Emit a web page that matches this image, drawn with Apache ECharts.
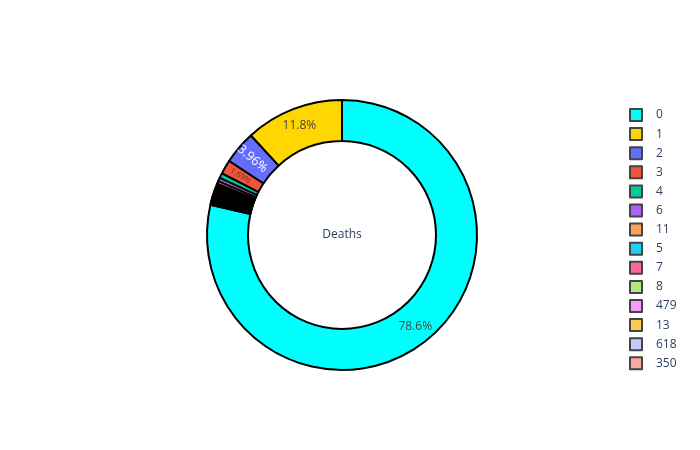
<!DOCTYPE html>
<html><head><meta charset="utf-8">
<script src="https://cdn.jsdelivr.net/npm/echarts@6/dist/echarts.min.js"></script>
<style>html,body{margin:0;padding:0;background:#fff}#c{width:700px;height:450px}</style>
</head><body><div id="c"></div>
<script>
// Legend-visible categories (sorted as in the reference legend)
const labels = ['0','1','2','3','4','6','11','5','7','8','479','13','618','350'];
const values = [932, 140, 47, 20, 7, 5, 4, 3, 2, 2, 2, 2, 2, 2];
// Long tail of tiny slices (they render as the black band; not listed in visible legend)
const tailLabels = ['t1','t2','t3','t4','t5','t6','t7','t8','t9','t10','t11','t12','t13','t14','t15','t16'];
const tailValues = [1,1,1,1,1,1,1,1,1,1,1,1,1,1,1,1];
const colors = ['#00FFFF','#FFD700','#636EFA','#EF553B','#00CC96','#AB63FA','#FFA15A','#19D3F3','#FF6692','#B6E880','#FF97FF','#FECB52','#C6C9FD','#F8AA9D'];
const tailColors = ['#66FFE0','#D5B0FD','#FFCFA8','#7AE6F8','#FFB3C7','#DBF3BF','#FFCCFF','#FFE5A8'];
const centerText = 'Deaths';

const allLabels = labels.concat(tailLabels);
const allValues = values.concat(tailValues);
const total = allValues.reduce((a, b) => a + b, 0);
const shownLabels = {0: {color: '#444', rotate: 0, fontSize: 12},
                     1: {color: '#444', rotate: 0, fontSize: 12},
                     2: {color: '#fff', rotate: 'radial', fontSize: 12.5},
                     3: {color: '#7a2a1d', rotate: 'radial', fontSize: 8}};

const data = allValues.map((v, i) => {
  const item = {name: allLabels[i], value: v,
    itemStyle: {color: i < colors.length ? colors[i] : tailColors[(i - colors.length) % tailColors.length]}};
  if (shownLabels[i]) {
    item.label = Object.assign({show: true}, shownLabels[i]);
  }
  return item;
});

const chart = echarts.init(document.getElementById('c'), null, {renderer: 'canvas'});
chart.setOption({
  animation: false,
  backgroundColor: '#fff',
  legend: {
    data: labels,
    orient: 'vertical',
    left: 624, top: 103,
    itemWidth: 12, itemHeight: 12, itemGap: 5.1,
    icon: 'rect',
    selectedMode: false,
    itemStyle: {borderColor: '#444', borderWidth: 2},
    textStyle: {color: '#2a3f5f', fontSize: 12, fontFamily: '"Open Sans", sans-serif', padding: [0,0,0,9], lineHeight: 12}
  },
  graphic: [{
    type: 'text', x: 342, y: 235,
    style: {text: centerText, fill: '#2a3f5f', font: '12px "Open Sans", sans-serif', align: 'center', verticalAlign: 'middle', textAlign: 'center', textVerticalAlign: 'middle'}
  }],
  series: [{
    type: 'pie',
    center: [342, 235],
    radius: [94, 135],
    clockwise: false,
    startAngle: 90 + 360 * (1 - allValues[0] / total),
    avoidLabelOverlap: false,
    minShowLabelAngle: 0,
    emphasis: {disabled: true},
    itemStyle: {borderColor: '#000', borderWidth: 2},
    label: {
      show: false, position: 'inside',
      fontFamily: '"Open Sans", sans-serif',
      formatter: p => (p.value / total * 100).toPrecision(3) + '%'
    },
    labelLine: {show: false},
    data: data
  }]
});
</script></body></html>
